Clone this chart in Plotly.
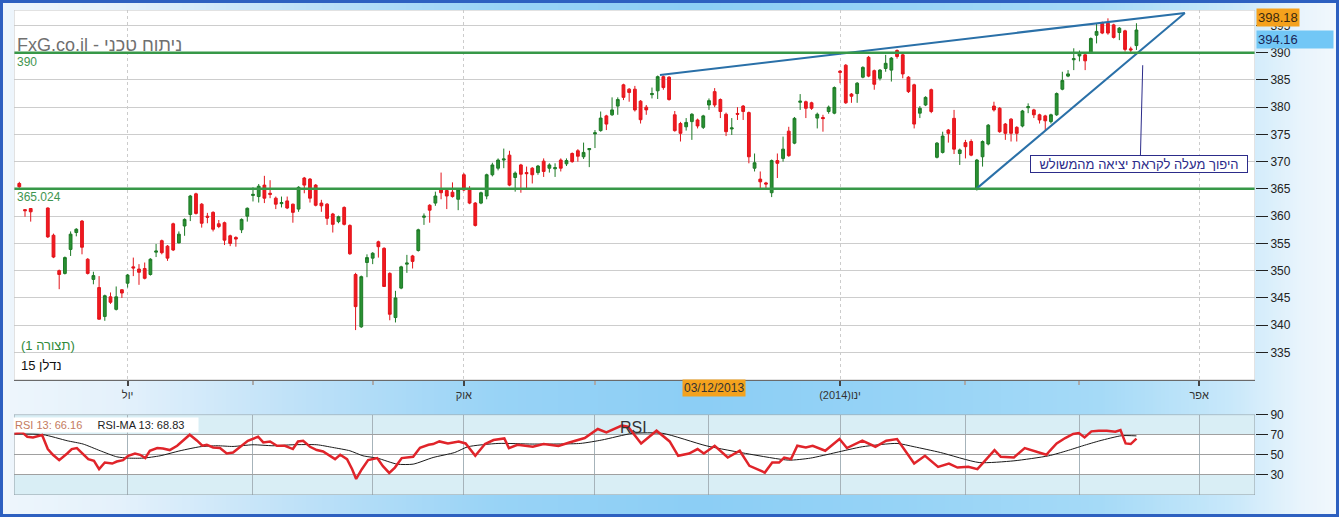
import base64, struct, zlib
import plotly.graph_objects as go

# ------------------------------------------------------------------ data
day = [0, 1, 2] + list(range(5, 197))
open_ = [366.0, 361.2, 361.4,
         361.5, 356.5, 350.0, 349.5, 353.9, 357.0, 359.1, 352.1, 348.4, 346.9,
         341.6, 345.2, 342.9, 346.5, 347.7, 350.7, 350.3, 350.4, 349.3, 353.4,
         355.5, 354.5, 358.6, 355.1, 358.2, 360.3, 364.1, 362.2, 360.0, 360.7,
         358.6, 358.8, 356.4, 356.1, 357.5, 360.0, 363.8, 363.6, 365.7, 364.2,
         363.3, 362.3, 362.8, 362.2, 361.3, 367.0, 366.8, 365.7, 362.4, 362.2,
         360.4, 359.0, 361.6, 358.3, 349.3, 339.7, 351.5, 352.3, 355.3, 354.1,
         349.5, 341.4, 346.8, 351.2, 352.7, 353.7, 359.8, 362.0, 362.4, 364.8,
         364.7, 364.4, 363.1, 367.6, 364.8, 362.4, 362.4, 363.7, 367.6, 368.8,
         370.3, 371.2, 367.1, 369.4, 368.0, 368.8, 368.0, 370.1, 368.8, 368.7,
         370.3, 369.6, 371.5, 372.0, 370.9, 372.2, 375.1, 375.7, 378.4, 378.6,
         380.2, 384.1, 383.3, 383.3, 381.1, 380.0, 382.3, 383.0, 385.6, 385.5,
         378.6, 377.0, 376.4, 377.35, 377.65, 376.3, 380.4, 382.85, 381.4, 378.7,
         376.0, 378.85, 380.2, 379.0, 368.8, 366.8, 366.1, 364.3, 370.2, 370.6,
         375.6, 373.4, 380.9, 381.0, 380.8, 378.0, 378.1, 379.2, 378.9, 386.6,
         387.7, 382.4, 382.5, 385.5, 389.15, 386.7, 385.3, 387.1, 386.8, 390.4,
         389.6, 385.5, 384.1, 378.9, 380.4, 383.2, 370.8, 371.7, 375.8, 377.95,
         371.5, 373.5, 373.7, 365.1, 370.9, 373.25, 380.2, 379.8, 376.9, 377.8,
         376.3, 376.55, 379.9, 379.5, 378.6, 378.4, 377.35, 378.6, 383.3, 385.7,
         388.7, 389.4, 389.6, 390.0, 393.2, 395.4, 395.4, 395.1, 393.7, 394.0,
         390.7, 391.3]
high = [366.3, 361.3, 361.5,
        361.6, 356.8, 350.2, 352.6, 357.2, 357.8, 359.3, 352.3, 349.8, 349.0,
        345.6, 346.0, 347.1, 346.6, 349.4, 352.4, 351.2, 351.5, 352.3, 354.9,
        355.7, 354.7, 358.8, 357.2, 359.6, 363.9, 364.3, 362.4, 360.6, 360.9,
        359.3, 359.0, 356.6, 356.3, 359.6, 361.6, 365.3, 365.9, 367.4, 366.6,
        363.6, 363.6, 363.6, 362.3, 365.5, 367.2, 367.0, 365.9, 363.0, 362.4,
        360.6, 360.1, 361.8, 358.5, 349.6, 349.1, 353.0, 353.4, 355.5, 354.3,
        349.7, 346.3, 350.9, 352.9, 352.9, 357.7, 360.5, 362.2, 364.5, 368.0,
        364.9, 366.2, 365.0, 367.9, 365.5, 362.6, 364.5, 367.8, 369.8, 370.6,
        372.4, 372.0, 368.2, 369.6, 369.1, 369.0, 369.4, 370.6, 369.7, 369.7,
        370.6, 370.6, 371.7, 372.3, 373.5, 372.5, 375.8, 379.2, 378.6, 381.8,
        381.8, 384.3, 383.5, 383.9, 381.3, 380.4, 383.6, 385.8, 385.8, 385.7,
        379.3, 377.3, 378.0, 378.9, 377.9, 378.6, 381.6, 383.5, 381.6, 379.0,
        378.0, 380.0, 380.4, 379.2, 371.5, 368.2, 366.3, 370.4, 371.5, 374.6,
        376.4, 378.2, 382.4, 381.2, 381.0, 379.0, 378.6, 380.3, 383.8, 386.8,
        387.9, 382.6, 384.6, 387.5, 389.4, 386.9, 387.0, 389.6, 389.2, 390.6,
        389.8, 385.7, 384.3, 380.2, 382.0, 383.4, 373.6, 375.5, 376.0, 379.5,
        372.4, 374.0, 374.1, 370.5, 373.9, 376.9, 381.0, 380.0, 377.1, 378.0,
        376.5, 379.5, 380.7, 379.7, 378.8, 378.6, 378.8, 382.7, 386.5, 386.8,
        390.8, 390.4, 389.8, 392.8, 395.3, 395.7, 396.3, 395.3, 394.7, 394.2,
        391.1, 395.4]
low = [365.2, 359.9, 359.0,
       356.0, 352.3, 346.6, 349.3, 352.7, 356.3, 353.0, 349.3, 347.5, 341.0,
       340.8, 343.9, 342.7, 345.0, 346.9, 349.0, 347.4, 348.4, 349.1, 352.5,
       353.0, 351.8, 353.6, 355.0, 356.4, 359.1, 360.3, 357.9, 358.7, 357.2,
       357.8, 354.7, 354.5, 354.4, 356.9, 359.0, 362.7, 362.5, 362.4, 363.3,
       361.3, 361.6, 361.3, 358.8, 360.8, 364.2, 362.5, 361.8, 360.8, 358.4,
       357.0, 358.7, 358.3, 352.9, 339.1, 339.5, 348.8, 351.2, 352.4, 347.0,
       340.9, 340.5, 346.6, 349.6, 350.4, 353.5, 358.4, 358.8, 361.9, 363.1,
       361.3, 363.4, 361.1, 364.6, 362.2, 358.1, 362.2, 363.1, 367.3, 368.4,
       368.8, 365.5, 364.5, 364.3, 365.1, 366.0, 367.6, 367.2, 368.0, 367.2,
       368.2, 369.2, 369.8, 370.0, 370.5, 369.0, 372.5, 375.5, 375.8, 378.4,
       378.6, 381.3, 381.0, 379.2, 377.0, 378.6, 381.6, 381.5, 383.2, 381.2,
       375.5, 373.7, 375.7, 374.0, 376.1, 376.0, 379.5, 380.0, 378.0, 374.7,
       374.9, 377.65, 377.65, 369.7, 368.2, 364.8, 364.8, 363.5, 367.0, 370.0,
       370.9, 373.2, 379.5, 378.0, 379.5, 376.1, 375.5, 378.8, 378.7, 384.4,
       380.6, 380.8, 380.8, 385.3, 385.5, 383.2, 384.9, 386.5, 384.7, 388.9,
       385.3, 382.6, 376.1, 378.0, 380.2, 378.9, 370.6, 371.5, 373.5, 371.4,
       369.4, 370.6, 371.0, 364.7, 369.1, 373.0, 379.2, 375.3, 374.0, 373.7,
       373.7, 376.3, 378.9, 378.0, 377.0, 375.8, 377.0, 378.4, 383.1, 385.5,
       386.8, 388.4, 386.8, 389.8, 391.7, 393.4, 393.3, 392.6, 392.3, 390.2,
       390.0, 390.5]
close = [365.4, 361.0, 360.8,
         356.2, 352.5, 349.3, 352.4, 356.7, 357.6, 354.3, 349.5, 349.1, 341.1,
         345.4, 344.2, 345.2, 345.9, 349.2, 350.5, 349.7, 348.6, 352.1, 353.6,
         353.3, 352.3, 353.8, 356.7, 359.4, 363.7, 360.5, 358.7, 359.8, 357.6,
         358.1, 355.6, 355.0, 355.8, 359.4, 361.45, 364.0, 365.5, 363.3, 364.0,
         362.2, 362.5, 361.5, 360.7, 365.3, 365.7, 363.3, 362.0, 361.9, 359.6,
         358.5, 359.9, 358.5, 353.1, 343.4, 348.9, 352.4, 353.2, 354.4, 347.1,
         342.0, 345.0, 350.7, 351.4, 351.7, 357.5, 360.0, 361.1, 363.7, 364.3,
         363.7, 363.6, 364.8, 364.8, 362.4, 358.3, 364.3, 367.6, 369.4, 370.3,
         370.5, 365.7, 367.9, 367.7, 367.8, 367.6, 369.2, 368.2, 369.4, 368.9,
         368.8, 370.2, 370.0, 371.0, 371.7, 372.4, 375.3, 378.0, 376.9, 379.5,
         381.4, 381.8, 382.7, 379.5, 377.7, 379.5, 382.5, 385.6, 383.6, 381.4,
         375.7, 375.2, 377.2, 378.7, 376.55, 378.4, 381.2, 380.4, 379.2, 375.5,
         376.2, 378.7, 379.2, 370.9, 369.8, 366.3, 365.9, 370.2, 369.7, 372.3,
         371.1, 377.95, 381.1, 379.8, 379.8, 378.7, 377.9, 380.0, 383.6, 386.4,
         380.8, 382.0, 384.4, 387.3, 385.7, 384.2, 386.8, 388.05, 389.0, 389.3,
         386.1, 382.85, 376.9, 379.8, 381.8, 379.2, 373.4, 374.7, 375.2, 372.3,
         372.15, 372.75, 371.2, 370.3, 373.7, 376.7, 379.5, 375.5, 375.2, 375.2,
         375.2, 379.3, 380.1, 378.6, 377.65, 377.5, 378.6, 382.5, 384.9, 386.1,
         388.9, 390.0, 388.5, 392.6, 393.9, 393.6, 393.6, 392.8, 394.5, 390.6,
         390.5, 394.16]

rsi_day = [-1.1, 0.5, 1.4, 2.4, 4.0, 5.0, 5.9, 7.0, 8.4, 9.2,
           10.1, 11.2, 12.1, 13.1, 14.0, 15.0, 16.3, 17.1, 18.2, 19.1,
           20.3, 21.2, 22.1, 22.9, 24.2, 25.2, 26.4, 27.7, 28.7, 29.9,
           31.2, 32.1, 32.9, 34.0, 35.2, 36.4, 37.5, 38.7, 40.1, 41.9,
           42.8, 44.0, 45.2, 46.6, 48.0, 48.9, 49.8, 51.0, 52.2, 53.3,
           54.5, 55.4, 56.3, 57.5, 58.4, 59.1, 60.1, 61.2, 62.8, 63.8,
           64.9, 65.9, 67.1, 69.1, 70.3, 71.8, 72.6, 73.7, 75.2, 77.1,
           78.3, 80.0, 81.7, 83.2, 85.1, 85.9, 87.4, 90.1, 92.0, 94.6,
           96.5, 99.2, 101.5, 103.0, 105.7, 106.8, 109.1, 111.8, 114.1, 115.6,
           117.5, 119.0, 120.1, 122.0, 124.3, 126.4, 128.1, 130.8, 132.1, 133.3,
           134.2, 135.4, 136.5, 138.0, 139.2, 141.4, 143.9, 145.2, 147.9, 150.2,
           152.1, 154.0, 157.0, 158.9, 161.2, 163.1, 164.6, 166.5, 168.1, 169.2,
           171.1, 172.2, 174.5, 176.4, 180.2, 180.8, 182.0, 183.5, 184.9, 185.9,
           186.9, 188.1, 189.4, 190.8, 192.3, 193.2, 194.1, 195.0, 196.0]
rsi = [70.7, 72.3, 68, 67.3, 69.7, 55.7, 50, 44.7, 51.3, 55.7,
       56.7, 50.7, 45.7, 44, 35.7, 42.3, 41.3, 43.3, 44.7, 49,
       51.3, 50, 46.7, 54, 56.7, 56.3, 54.7, 59, 64, 70,
       64, 59, 60, 57.3, 56.7, 51.3, 52.3, 58, 64, 68,
       62.3, 63.3, 59, 59, 55.7, 63.3, 64, 58, 54.7, 53.3,
       49, 45.7, 50, 45.7, 35.7, 26, 35.7, 44.7, 46.7, 38.7,
       32, 37.3, 46.7, 48, 57, 60, 60.7, 63.3, 61.3, 63.3,
       61.3, 49, 60.7, 64.7, 66.3, 56.7, 60, 58, 60.7, 58.7,
       62.3, 66.7, 75.7, 72.3, 79, 78, 61.3, 74, 63.3, 49,
       51.3, 55.7, 51.3, 59, 47.3, 54, 39, 32.3, 42.3, 42.3,
       47.3, 45.7, 59, 57.3, 59, 54, 65.7, 56.7, 64, 58,
       64, 65.7, 41.3, 49, 38, 41.3, 37.3, 38, 35.7, 42.3,
       54.7, 48, 47.3, 56.7, 50, 54, 61.3, 66.7, 70.7, 71.7,
       67.3, 73.3, 74, 74, 73, 74.7, 61.3, 60.7, 66.16]
rsi_ma_day = [-1.1, 4.2, 8.4, 11.2, 14.2, 17.1, 19.1, 21.7, 24.7, 28.2,
              31.7, 34.7, 37.5, 41.0, 44.5, 48.0, 52.2, 55.0, 58.0, 60.3,
              62.8, 66.3, 69.1, 72.6, 76.4, 78.7, 84.0, 90.1, 98.4, 102.2,
              107.6, 112.9, 120.5, 128.1, 135.0, 138.8, 143.3, 147.9, 154.0, 157.0,
              161.6, 168.4, 174.5, 180.6, 183.8, 186.6, 189.6, 193.4, 196.0]
rsi_ma = [70.7, 70, 64, 60.7, 54, 48, 46.7, 46.7, 49, 54,
          58, 59, 58.3, 60, 59, 60, 60, 57.3, 54, 49,
          46.7, 40.7, 40.7, 47.3, 52.3, 58, 61.3, 60.7, 61.3, 64.7,
          71.3, 71.3, 59, 50.7, 44.7, 46.7, 52.3, 58, 61.3, 58,
          52.3, 42.3, 44, 49, 54, 59, 64, 69, 68.83]

month_days = [19, 41, 62, 78, 101, 121, 144, 166, 186, 207]
quarter_days = [19, 78, 144, 207]
quarter_labels = ['יול', 'אוק', '(2014)\u200eינו', 'אפר']
minor_days = [41, 62, 101, 121, 166, 186]
price_ticks = [335, 340, 345, 350, 355, 360, 365, 370, 375, 380, 385, 390, 395]
rsi_ticks = [30, 50, 70, 90]

support_levels = [390, 365.024]
support_labels = ['390', '365.024']
upper_trend_day = [112.4, 204.5]
upper_trend_price = [385.9, 397.3]
lower_trend_day = [168.0, 204.5]
lower_trend_price = [365.1, 397.3]
callout_day = [197.1, 196.7]
callout_price = [387.7, 371.2]
callout_text = 'היפוך מעלה לקראת יציאה מהמשולש'
callout_pos = (196.5, 369.6)
last_price = 394.16
high_label = 398.18
cursor_date = '03/12/2013'
rsi_last = 66.16
rsi_ma_last = 68.83
title_text = 'FxG.co.il - ניתוח טכני'
pattern_text = '(תצורה 1)'
symbol_text = 'נדלן 15'

# ------------------------------------------------------------------ geometry
W, H = 1339, 517
L, R, T, B = 14, 84, 10, 22
PW, PH = W - L - R, H - T - B
X_RANGE = [-0.93, 216.8]
Y_RANGE = [329.94, 397.83]
RSI_RANGE = [10, 90]
MAIN_DOM = [(H - B - 380) / PH, 1]
RSI_DOM = [0, (H - B - 414.6) / PH]


def px(x):
    return (x - L) / PW


def py(y):
    return (H - B - y) / PH


def price_paper(p):
    return MAIN_DOM[0] + (p - Y_RANGE[0]) / (Y_RANGE[1] - Y_RANGE[0]) * (MAIN_DOM[1] - MAIN_DOM[0])


FONT = 'Liberation Sans, Arial, sans-serif'


# background gradient image (pure python PNG)
def gradient_png(stops, width=335):
    row = bytearray()
    for i in range(width):
        t = i * (W - 1) / (width - 1)
        for k in range(len(stops) - 1):
            a, ca = stops[k]
            b, cb = stops[k + 1]
            if a <= t <= b:
                f = (t - a) / (b - a) if b > a else 0
                row += bytes(int(round(ca[j] + (cb[j] - ca[j]) * f)) for j in range(3))
                break
    raw = b'\x00' + bytes(row)

    def chunk(tag, data):
        c = struct.pack('>I', len(data)) + tag + data
        return c + struct.pack('>I', zlib.crc32(tag + data) & 0xffffffff)

    png = (b'\x89PNG\r\n\x1a\n'
           + chunk(b'IHDR', struct.pack('>IIBBBBB', width, 1, 8, 2, 0, 0, 0))
           + chunk(b'IDAT', zlib.compress(raw))
           + chunk(b'IEND', b''))
    return 'data:image/png;base64,' + base64.b64encode(png).decode()


bg_stops = [(0, (238, 246, 252)), (120, (228, 241, 251)), (300, (190, 225, 248)),
            (500, (152, 211, 246)), (700, (140, 206, 245)), (900, (150, 211, 246)),
            (1100, (165, 218, 247)), (1230, (200, 232, 250)), (1300, (232, 244, 252)),
            (1338, (242, 248, 253))]

fig = go.Figure()

fig.add_trace(go.Candlestick(
    x=day, open=open_, high=high, low=low, close=close,
    increasing=dict(line=dict(color='#1d7a26', width=1), fillcolor='#2a9133'),
    decreasing=dict(line=dict(color='#e3141b', width=1), fillcolor='#f01a20'),
    xaxis='x', yaxis='y', hoverinfo='skip', showlegend=False))

for d, p in [(upper_trend_day, upper_trend_price), (lower_trend_day, lower_trend_price)]:
    fig.add_trace(go.Scatter(x=d, y=p, mode='lines', line=dict(color='#2a70a8', width=2),
                             xaxis='x', yaxis='y', hoverinfo='skip', showlegend=False))

fig.add_trace(go.Scatter(x=callout_day, y=callout_price, mode='lines',
                         line=dict(color='#2c2c8a', width=1),
                         xaxis='x', yaxis='y', hoverinfo='skip', showlegend=False))

fig.add_trace(go.Scatter(x=rsi_ma_day, y=rsi_ma, mode='lines',
                         line=dict(color='#1a1a1a', width=1, shape='spline', smoothing=0.6),
                         xaxis='x2', yaxis='y2', hoverinfo='skip', showlegend=False))
fig.add_trace(go.Scatter(x=rsi_day, y=rsi, mode='lines',
                         line=dict(color='#e0242a', width=2.5),
                         xaxis='x2', yaxis='y2', hoverinfo='skip', showlegend=False))

shapes = []
# panel backgrounds
shapes.append(dict(type='rect', xref='x', yref='y', x0=X_RANGE[0], x1=X_RANGE[1],
                   y0=Y_RANGE[0], y1=Y_RANGE[1], fillcolor='white', line=dict(width=0), layer='below'))
for y0, y1, c in [(10, 30, '#d9eef5'), (30, 70, 'white'), (70, 90, '#d9eef5')]:
    shapes.append(dict(type='rect', xref='x2', yref='y2', x0=X_RANGE[0], x1=X_RANGE[1],
                       y0=y0, y1=y1, fillcolor=c, line=dict(width=0), layer='below'))
# support lines
for lvl in support_levels:
    shapes.append(dict(type='line', xref='x', yref='y', x0=X_RANGE[0], x1=X_RANGE[1],
                       y0=lvl, y1=lvl, line=dict(color='#379848', width=2.5)))
# frames
shapes.append(dict(type='rect', xref='x', yref='y', x0=X_RANGE[0], x1=X_RANGE[1],
                   y0=Y_RANGE[0], y1=Y_RANGE[1], line=dict(color='#c6c6c6', width=1)))
shapes.append(dict(type='rect', xref='x2', yref='y2', x0=X_RANGE[0], x1=X_RANGE[1],
                   y0=RSI_RANGE[0], y1=RSI_RANGE[1], line=dict(color='#8f9ca3', width=1)))
# outer blue frame
shapes.append(dict(type='rect', xref='paper', yref='paper',
                   x0=px(0), x1=px(W), y0=py(H), y1=py(0),
                   line=dict(color='#2d60c0', width=6)))

annotations = [
    dict(text=title_text, xref='paper', yref='paper', x=px(15), y=py(45.5),
         xanchor='left', yanchor='middle', showarrow=False,
         font=dict(family=FONT, size=18, color='#707070')),
    dict(text=support_labels[0], xref='paper', yref='paper', x=px(15), y=py(62),
         xanchor='left', yanchor='middle', showarrow=False,
         font=dict(family=FONT, size=12, color='#3f9550')),
    dict(text=support_labels[1], xref='paper', yref='paper', x=px(15), y=py(197),
         xanchor='left', yanchor='middle', showarrow=False,
         font=dict(family=FONT, size=12, color='#3f9550')),
    dict(text=pattern_text, xref='paper', yref='paper', x=px(19), y=py(345.5),
         xanchor='left', yanchor='middle', showarrow=False,
         font=dict(family=FONT, size=13, color='#2f8a3a')),
    dict(text=symbol_text, xref='paper', yref='paper', x=px(19), y=py(365),
         xanchor='left', yanchor='middle', showarrow=False,
         font=dict(family=FONT, size=13, color='#111111')),
    dict(text=f'{high_label:.2f}', xref='paper', yref='paper', x=px(1256),
         y=price_paper(high_label),
         xanchor='left', yanchor='top', showarrow=False, bgcolor='#f5a11c', borderpad=1,
         font=dict(family=FONT, size=13, color='#3b2a10')),
    dict(text=f'{last_price:.2f}', xref='paper', yref='paper', x=px(1256),
         y=price_paper(last_price),
         xanchor='left', yanchor='top', showarrow=False, bgcolor='#72c7f6', borderpad=1,
         width=74, align='left', font=dict(family=FONT, size=13, color='#1b2555')),
    dict(text=cursor_date, xref='paper', yref='paper', x=px(714), y=py(388),
         xanchor='center', yanchor='middle', showarrow=False, bgcolor='#f4a21d', borderpad=1,
         font=dict(family=FONT, size=12, color='#333333')),
    dict(text=callout_text, xref='x', yref='y', x=callout_pos[0], y=callout_pos[1],
         xanchor='center', yanchor='middle', showarrow=False, bgcolor='white',
         bordercolor='#2c2c8a', borderwidth=1, borderpad=1, width=214, height=14,
         font=dict(family=FONT, size=13, color='#2c2c8a')),
    dict(text='RSI', xref='paper', yref='paper', x=px(633), y=py(427),
         xanchor='center', yanchor='middle', showarrow=False,
         font=dict(family=FONT, size=16, color='#333333')),
    dict(text=(f'<span style="color:#c47a60">RSI 13: {rsi_last:.2f}</span>'
               + '\u00a0' * 5 + f'RSI-MA 13: {rsi_ma_last:.2f}'),
         xref='paper', yref='paper', x=px(13), y=py(424.5),
         xanchor='left', yanchor='middle', showarrow=False, bgcolor='white',
         width=182, align='left', borderpad=1,
         font=dict(family=FONT, size=11, color='#222222')),
]

fig.update_layout(
    width=W, height=H,
    margin=dict(l=L, r=R, t=T, b=B, autoexpand=False),
    paper_bgcolor='#eef6fc',
    plot_bgcolor='rgba(0,0,0,0)',
    showlegend=False,
    hovermode=False,
    dragmode=False,
    font=dict(family=FONT, size=12, color='#222'),
    images=[dict(source=gradient_png(bg_stops), xref='paper', yref='paper',
                 x=px(0), y=py(0), sizex=W / PW, sizey=H / PH,
                 xanchor='left', yanchor='top', sizing='stretch', layer='below')],
    shapes=shapes,
    annotations=annotations,
    xaxis=dict(domain=[0, 1], range=X_RANGE, anchor='y', rangeslider=dict(visible=False),
               tickmode='array', tickvals=quarter_days, ticktext=quarter_labels,
               ticks='outside', ticklen=5, tickwidth=2, tickcolor='#444',
               showgrid=True, gridcolor='#cccccc', griddash='dot', gridwidth=1,
               showline=True, linecolor='#6a6a6a', linewidth=1, zeroline=False,
               tickfont=dict(family=FONT, size=11, color='#333'),
               minor=dict(tickvals=minor_days, ticks='outside', ticklen=4,
                          tickcolor='#aaaaaa', showgrid=False),
               fixedrange=True),
    yaxis=dict(domain=MAIN_DOM, range=Y_RANGE, anchor='x', side='right',
               tickmode='array', tickvals=price_ticks, ticks='outside', ticklen=12,
               tickcolor='#222', showgrid=True, gridcolor='#cdcdcd', gridwidth=1,
               zeroline=False, showline=False,
               tickfont=dict(family=FONT, size=12, color='#222'), fixedrange=True),
    xaxis2=dict(domain=[0, 1], range=X_RANGE, anchor='y2', matches='x',
                showticklabels=False, tickmode='array', tickvals=month_days, ticks='',
                showgrid=True, gridcolor='#a6b3ba', gridwidth=1, zeroline=False,
                showline=False, fixedrange=True),
    yaxis2=dict(domain=RSI_DOM, range=RSI_RANGE, anchor='x2', side='right',
                tickmode='array', tickvals=rsi_ticks, ticks='outside', ticklen=12,
                tickcolor='#222', showgrid=True, gridcolor='#a0a0a0', gridwidth=1,
                zeroline=False, showline=False,
                tickfont=dict(family=FONT, size=12, color='#222'), fixedrange=True),
)

fig.write_html('out.html', config={'displayModeBar': False},
               post_script="document.body.style.margin='0';document.body.style.overflow='hidden';")
